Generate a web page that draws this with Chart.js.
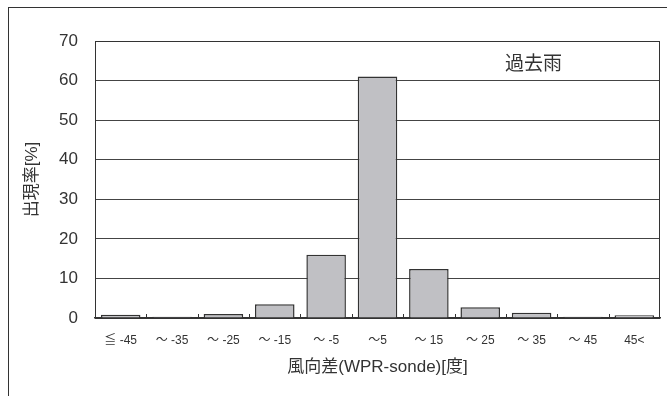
<!DOCTYPE html>
<html>
<head>
<meta charset="utf-8">
<script src="https://cdn.jsdelivr.net/npm/chart.js@4"></script>
<style>
  html, body { margin: 0; padding: 0; background: #fff; }
  #wrap { width: 667px; height: 396px; }
</style>
</head>
<body>
<div id="wrap"><canvas id="wind_Chart" width="667" height="396"></canvas></div>
<script>
const categories = ['≦ -45', '～ -35', '～ -25', '～ -15', '～ -5', '～5', '～ 15', '～ 25', '～ 35', '～ 45', '45<'];
const rateValues = [0.8, 0.3, 1.0, 3.5, 16, 61, 12.4, 2.7, 1.3, 0.3, 0.7];
const yTicks = [0, 10, 20, 30, 40, 50, 60, 70];
const xTitle = '風向差(WPR-sonde)[度]';
const yTitle = '出現率[%]';
const panelLabel = '過去雨';

const textFont = "'Liberation Sans', 'Noto Sans CJK JP', sans-serif";

// frame, inner tick marks and the label inside the plot
const extras = {
    id: 'extras',
    afterDraw(chart) {
        const c = chart.ctx;
        const a = chart.chartArea;
        const xs = chart.scales.x;
        c.save();
        c.strokeStyle = '#333';
        c.lineWidth = 1;
        c.strokeRect(8.5, 7.5, 700, 400);
        c.strokeRect(a.left + 0.5, a.top + 0.5, a.right - a.left - 1, a.bottom - a.top);
        // small ticks between categories
        for (let i = 1; i < categories.length; i++) {
            const x = Math.round((xs.getPixelForValue(i - 1) + xs.getPixelForValue(i)) / 2) + 0.5;
            c.beginPath();
            c.moveTo(x, a.bottom);
            c.lineTo(x, a.bottom - 4);
            c.stroke();
        }
        c.fillStyle = '#333';
        c.font = "19px 'Noto Sans CJK JP', sans-serif";
        c.textBaseline = 'middle';
        c.fillText(panelLabel, 505, 63);
        c.restore();
    }
};

document.addEventListener("DOMContentLoaded", function() {
    const ctx = document.getElementById('wind_Chart').getContext('2d');
    const wind_Chart = new Chart(ctx, {
        type: 'bar',
        data: {
            labels: categories,
            datasets: [{
                data: rateValues,
                backgroundColor: '#c0c0c4',
                borderColor: '#333',
                borderWidth: 1.5,
                barPercentage: 0.77,
                categoryPercentage: 1.0
            }]
        },
        options: {
            responsive: false,
            animation: false,
            layout: { padding: { left: 0, top: 41, right: 7, bottom: 0 } },
            plugins: {
                legend: { display: false },
                tooltip: { enabled: false }
            },
            scales: {
                x: {
                    afterFit: function(scale) { scale.height = 78; },
                    grid: { display: false, drawTicks: false },
                    border: { display: true, color: '#333', width: 1.5 },
                    ticks: {
                        padding: 15,
                        color: '#333',
                        maxRotation: 0,
                        autoSkip: false,
                        font: { size: 12, family: textFont }
                    },
                    title: {
                        display: true,
                        text: xTitle,
                        color: '#333',
                        padding: { top: 0, bottom: 18 },
                        font: { size: 17, family: textFont }
                    }
                },
                y: {
                    min: 0,
                    max: 70,
                    afterFit: function(scale) { scale.width = 95; },
                    afterBuildTicks: function(scale) {
                        scale.ticks = yTicks.map(v => ({ value: v }));
                    },
                    grid: { color: '#444', lineWidth: 1, drawTicks: false },
                    border: { display: false },
                    ticks: {
                        padding: 17,
                        color: '#333',
                        font: { size: 17, family: textFont }
                    },
                    title: {
                        display: true,
                        text: yTitle,
                        color: '#333',
                        padding: { top: 22, bottom: 0 },
                        font: { size: 17, family: textFont }
                    }
                }
            }
        },
        plugins: [extras]
    });
});
</script>
</body>
</html>
